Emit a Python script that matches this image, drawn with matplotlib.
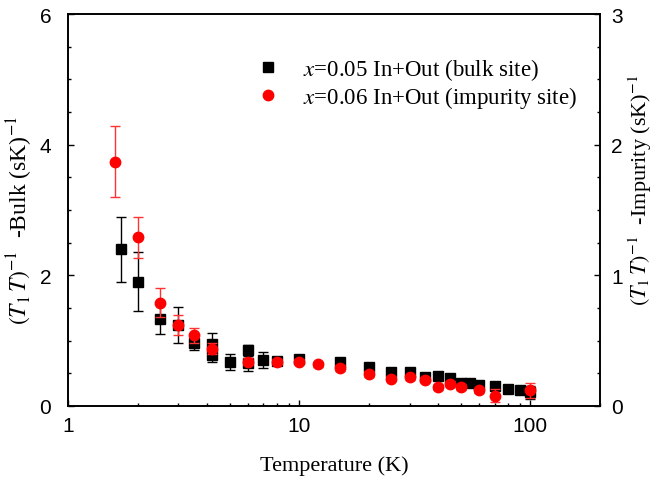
import matplotlib
matplotlib.use("Agg")
import matplotlib.pyplot as plt
from matplotlib.ticker import MultipleLocator, LogLocator, NullFormatter, FixedLocator, FixedFormatter
from matplotlib.lines import Line2D
import numpy as np

plt.rcParams['mathtext.fontset'] = 'stix'
plt.rcParams['font.family'] = ['Liberation Serif', 'DejaVu Serif']

# Bulk site (x=0.05), left axis
bulk_T = [1.7, 2.0, 2.5, 3.0, 3.5, 4.2, 4.2, 5.0, 6.0, 6.0, 7.0, 8.0, 10, 15, 20, 25, 30, 35, 40, 45, 50, 55, 60, 70, 80, 90, 100]
bulk_v = [2.40, 1.90, 1.33, 1.24, 0.97, 0.95, 0.78, 0.67, 0.85, 0.66, 0.70, 0.69, 0.72, 0.67, 0.60, 0.52, 0.52, 0.45, 0.46, 0.43, 0.35, 0.35, 0.32, 0.31, 0.26, 0.25, 0.21]
bulk_e = [0.50, 0.45, 0.23, 0.28, 0.12, 0.17, 0.10, 0.12, 0.08, 0.12, 0.12, 0.05, 0.05, 0.04, 0.03, 0.03, 0.03, 0.03, 0.03, 0.03, 0.03, 0.03, 0.03, 0.03, 0.03, 0.03, 0.10]

# Impurity site (x=0.06), right axis
imp_T = [1.6, 2.0, 2.5, 3.0, 3.5, 4.2, 6.0, 8.0, 10, 12, 15, 20, 25, 30, 35, 40, 45, 50, 60, 70, 100]
imp_v = [1.87, 1.29, 0.79, 0.62, 0.54, 0.44, 0.34, 0.34, 0.34, 0.32, 0.29, 0.245, 0.21, 0.22, 0.20, 0.145, 0.17, 0.145, 0.12, 0.08, 0.12]
imp_e = [0.27, 0.16, 0.11, 0.08, 0.06, 0.04, 0.03, 0.02, 0.02, 0.02, 0.02, 0.02, 0.02, 0.02, 0.02, 0.02, 0.02, 0.02, 0.02, 0.05, 0.055]

x_ticks = [1, 10, 100]
x_ticklabels = ['1', '10', '100']

label_bulk = r'$x$=0.05 In+Out (bulk site)'
label_imp = r'$x$=0.06 In+Out (impurity site)'
ylabel_left = r'$(T_1\,T)^{-1}$  -Bulk (sK)$^{-1}$'
ylabel_right = r'$(T_1\,T)^{-1}$  -Impurity (sK)$^{-1}$'

fig = plt.figure(figsize=(6.56, 4.85), dpi=100)
ax = fig.add_axes([68/656, 1-407/485, (600-68)/656, (407-15)/485])
ax2 = ax.twinx()

ax.errorbar(bulk_T, bulk_v, yerr=bulk_e, fmt='s', color='black', ms=6.5,
            ecolor='black', elinewidth=1, capsize=3.5, capthick=1, zorder=3)
ax2.errorbar(imp_T, imp_v, yerr=imp_e, fmt='o', color='red', ms=7.5,
             ecolor='#ff3333', elinewidth=1, capsize=3.5, capthick=1, zorder=3)

ax.set_xscale('log')
ax.set_xlim(1, 200)
ax.set_ylim(0, 6)
ax2.set_ylim(0, 3)

ax.xaxis.set_major_locator(FixedLocator(x_ticks))
ax.xaxis.set_major_formatter(FixedFormatter(x_ticklabels))
ax.xaxis.set_minor_locator(LogLocator(base=10, subs=np.arange(2, 10)))
ax.xaxis.set_minor_formatter(NullFormatter())
ax.yaxis.set_major_locator(MultipleLocator(2))
ax.yaxis.set_minor_locator(MultipleLocator(0.5))
ax2.yaxis.set_major_locator(MultipleLocator(1))
ax2.yaxis.set_minor_locator(MultipleLocator(0.25))

for a in (ax, ax2):
    a.tick_params(which='major', direction='in', length=4.5, width=1, labelsize=15)
    a.tick_params(which='minor', direction='in', length=2.5, width=1)
    for lab in a.get_xticklabels() + a.get_yticklabels():
        lab.set_fontfamily(['Liberation Sans', 'DejaVu Sans'])
    for s in a.spines.values():
        s.set_linewidth(1.2)
ax.tick_params(top=False, right=False)
ax.tick_params(axis='x', which='major', pad=7)
ax.tick_params(axis='y', which='major', pad=12)
ax2.tick_params(axis='y', which='major', pad=8)

ax.set_xlabel('Temperature (K)', fontsize=16, labelpad=15)
fig.text(20/656, 1-220/485, ylabel_left, fontsize=17, rotation=90, ha='center', va='center')
fig.text(640/656, 1-190/485, ylabel_right, fontsize=16, rotation=90, ha='center', va='center')

h1 = Line2D([], [], marker='s', color='black', ls='none', ms=6.5)
h2 = Line2D([], [], marker='o', color='red', ls='none', ms=7.5)
ax2.legend([h1, h2], [label_bulk, label_imp], loc='upper left', bbox_to_anchor=(0.295, 0.945),
           frameon=False, fontsize=16.5, handletextpad=0.5, labelspacing=0.1)

fig.savefig('out.png', dpi=100)
